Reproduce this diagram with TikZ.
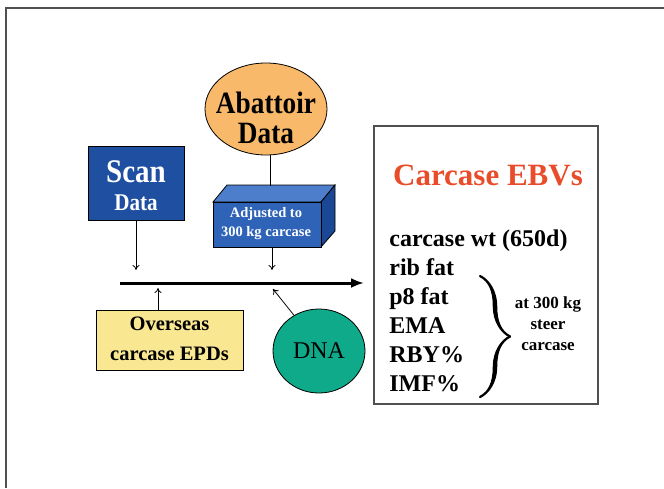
\documentclass[tikz,border=0pt]{standalone}
\usepackage{fontspec}
\setmainfont{Liberation Serif}
\newfontfamily\narrowserif[FakeStretch=0.88]{Liberation Serif}
\usepackage{tikz}
\usetikzlibrary{arrows,arrows.meta}
\usetikzlibrary{shapes.geometric}
\usetikzlibrary{decorations.pathreplacing,calligraphy}

\definecolor{abattoirorange}{HTML}{F9B96B}
\definecolor{scanblue}{HTML}{1F4FA0}
\definecolor{boxfront}{HTML}{2F63B8}
\definecolor{boxtop}{HTML}{4C7ECB}
\definecolor{boxside}{HTML}{1B4894}
\definecolor{overseasyellow}{HTML}{F9E792}
\definecolor{dnateal}{HTML}{0FAA8A}
\definecolor{ebvred}{HTML}{E84C2A}
\definecolor{framegray}{HTML}{505050}

\tikzset{
	bigfont/.style={font=\bfseries\fontsize{#1}{#1}\selectfont},
	narrowfont/.style={font=\narrowserif\bfseries\fontsize{#1}{#1}\selectfont},
	listitem/.style={anchor=base west, inner sep=0pt, font=\bfseries\fontsize{24}{24}\selectfont},
	feed/.style={-{To[length=5pt,width=7pt]}, line width=0.8pt}
}

\begin{document}
\begin{tikzpicture}[x=1pt, y=-1pt, line width=0.8pt]
	
	\useasboundingbox (0,0) rectangle (664,488);
	\draw[framegray, line width=1.5pt] (664,8) -- (6,8) -- (6,488);
	
	% sources
	\node[ellipse, draw, fill=abattoirorange, minimum width=122pt, minimum height=92pt, inner sep=0pt] (abattoir) at (266,109) {};
	\node[narrowfont=31, anchor=base] at (266,113) {Abattoir};
	\node[narrowfont=31, anchor=base] at (266,143) {Data};
	\node[draw, fill=scanblue, minimum width=96pt, minimum height=74pt, inner sep=0pt] (scan) at (136,183) {};
	\node[narrowfont=33, text=white, anchor=base] at (136,182) {Scan};
	\node[narrowfont=24, text=white, anchor=base] at (136,210) {Data};
	
	% 3d box
	\draw[fill=boxtop] (213,202) -- (227,185) -- (335,185) -- (321,202) -- cycle;
	\draw[fill=boxside] (321,202) -- (335,185) -- (335,231) -- (321,247) -- cycle;
	\node[draw, fill=boxfront, minimum width=108pt, minimum height=45pt, inner sep=0pt] (adjusted) at (267,224.5) {};
	\node[bigfont=14.5, text=white, anchor=base] at (266,217) {Adjusted to};
	\node[bigfont=14.5, text=white, anchor=base] at (266,236) {300 kg carcase};
	
	\node[draw, fill=overseasyellow, minimum width=147pt, minimum height=60pt, inner sep=0pt] (overseas) at (169.5,340) {};
	\node[bigfont=20.5, anchor=base] at (169.5,330) {Overseas};
	\node[bigfont=20.5, anchor=base] at (169.5,360) {carcase EPDs};
	\node[ellipse, draw, fill=dnateal, minimum width=92pt, minimum height=84pt, inner sep=0pt, font=\fontsize{24}{24}\selectfont] (dna) at (319,351) {DNA};
	
	% flow line
	\coordinate (flowstart) at (120,283);
	\coordinate (flowend) at (364,283);
	\coordinate (scandrop) at (136,270);
	\coordinate (adjtop) at (272,186);
	\coordinate (adjdrop) at (272,270);
	\coordinate (oshit) at (158,288);
	\coordinate (dnahit) at (273,289);
	
	\draw[line width=3pt, -{Latex[length=13pt,width=10pt]}] (flowstart) -- (flowend);
	\draw (abattoir.-84) -- (abattoir.-84 |- adjtop);
	\draw[feed] (scan.south) -- (scandrop);
	\draw[feed] (adjusted.south -| adjdrop) -- (adjdrop);
	\draw[feed] (overseas.north -| oshit) -- (oshit);
	\draw[feed] (dna.125) -- (dnahit);
	
	% EBV panel
	\node[draw=framegray, line width=1.3pt, minimum width=224pt, minimum height=278pt, inner sep=0pt] (ebvs) at (486,265) {};
	\node[bigfont=31, text=ebvred] (ebvtitle) at (488,175) {Carcase EBVs};
	\node[listitem] (cwt) at (389,246) {carcase wt (650d)};
	\node[listitem] (rib) at (389,275) {rib fat};
	\node[listitem] (ppe) at (389,304) {p8 fat};
	\node[listitem] (ema) at (389,333) {EMA};
	\node[listitem] (rby) at (389,362) {RBY\%};
	\node[listitem] (imf) at (389,391) {IMF\%};
	\draw[decorate, decoration={calligraphic brace, amplitude=30pt}, line width=4.5pt] (480,276) -- (480,397);
	\node[align=center, font=\bfseries\fontsize{17}{21}\selectfont] (steer) at (548,324) {at 300 kg\\steer\\carcase};
	
\end{tikzpicture}
\end{document}
